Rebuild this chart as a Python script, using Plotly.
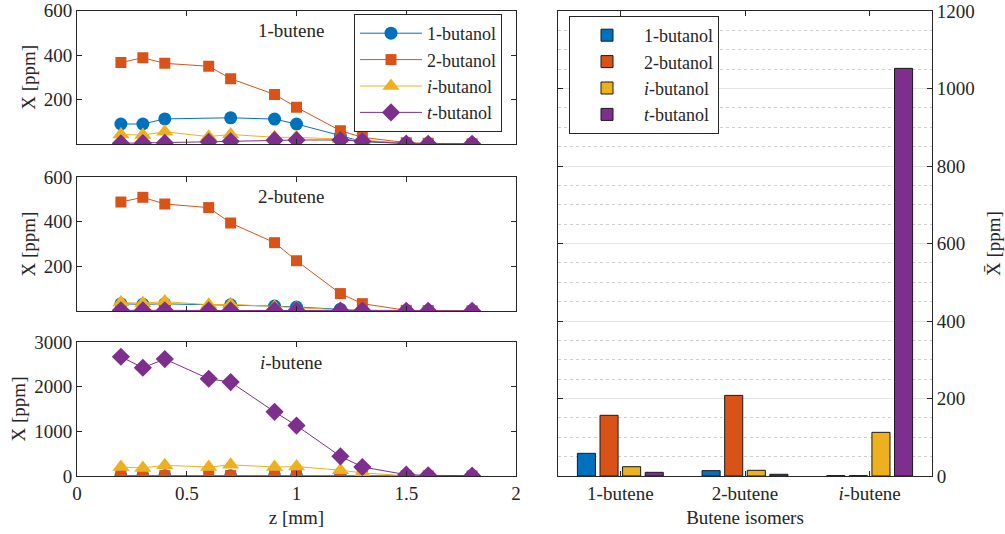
import plotly.graph_objects as go

# ---------------- data ----------------
z = [0.2, 0.3, 0.4, 0.6, 0.7, 0.9, 1.0, 1.2, 1.3, 1.5, 1.6, 1.8]
series_names = ["1-butanol", "2-butanol", "<i>i</i>-butanol", "<i>t</i>-butanol"]

# 1-butene panel
b1_1but = [90, 90, 113, None, 118, 112, 90, 38, 10, 3, 1, 1]
b1_2but = [367, 388, 363, 350, 294, 223, 165, 60, 30, 6, 3, 1]
b1_ibut = [43, 40, 55, 33, 43, 30, 30, 22, 18, 3, 1, 1]
b1_tbut = [3, 4, 5, 10, 12, 17, 18, 18, 12, 2, 1, 1]

# 2-butene panel
b2_1but = [32, 30, 32, None, 28, 22, 18, 8, 2, 1, 1, 1]
b2_2but = [488, 509, 479, 463, 394, 306, 225, 78, 33, 3, 2, 1]
b2_ibut = [38, 35, 42, 28, 30, 18, 15, 5, 3, 2, 1, 1]
b2_tbut = [3, 3, 3, 3, 3, 3, 3, 2, 2, 1, 1, 1]

# i-butene panel
bi_1but = [5, 5, 5, None, 5, 5, 5, 3, 2, 1, 1, 1]
bi_2but = [8, 8, 8, 8, 8, 8, 8, 5, 3, 1, 1, 1]
bi_ibut = [200, 180, 240, 200, 250, 200, 210, 130, 70, 5, 3, 2]
bi_tbut = [2670, 2423, 2618, 2177, 2102, 1436, 1129, 441, 202, 30, 15, 7]

# bar chart (mean values)
isomers = ["1-butene", "2-butene", "<i>i</i>-butene"]
mean_1but = [58.5, 13.8, 1.0]
mean_2but = [156.6, 208.0, 1.0]
mean_ibut = [24.0, 14.7, 112.7]
mean_tbut = [9.5, 4.4, 1052.0]

panel_labels = ["1-butene", "2-butene", "<i>i</i>-butene"]

# ---------------- styling ----------------
colors = ["#0072BD", "#D95319", "#EDB120", "#7E2F8E"]
symbols = ["circle", "square", "triangle-up", "diamond"]
msizes = [13, 11, 15, 14]
FONT = "Liberation Serif"
TXT = "#262626"
FS = 19
LFS = 18

fig = go.Figure()

panels = [
    ([b1_1but, b1_2but, b1_ibut, b1_tbut], "x", "y"),
    ([b2_1but, b2_2but, b2_ibut, b2_tbut], "x2", "y2"),
    ([bi_1but, bi_2but, bi_ibut, bi_tbut], "x3", "y3"),
]
for p, (vals, xa, ya) in enumerate(panels):
    for k in range(4):
        fig.add_trace(go.Scatter(
            x=z, y=vals[k], xaxis=xa, yaxis=ya,
            mode="lines+markers", connectgaps=True,
            name=series_names[k], showlegend=(p == 0), legend="legend",
            line=dict(color=colors[k], width=1),
            marker=dict(color=colors[k], symbol=symbols[k], size=msizes[k],
                        line=dict(width=0)),
        ))

bar_vals = [mean_1but, mean_2but, mean_ibut, mean_tbut]
for k in range(4):
    fig.add_trace(go.Bar(
        x=isomers, y=bar_vals[k], xaxis="x4", yaxis="y4",
        name=series_names[k], legend="legend2",
        marker=dict(color=colors[k], line=dict(color="#1a1a1a", width=1)),
    ))

axis_common = dict(
    showline=True, linecolor=TXT, linewidth=1, mirror="allticks",
    ticks="inside", ticklen=5, tickcolor=TXT, showgrid=False, zeroline=False,
    automargin=False,
    tickfont=dict(family=FONT, size=FS, color=TXT),
)

L0, L1 = 77 / 1005, 516 / 1005
R0, R1 = 558 / 1005, 932 / 1005


def ydom(top_px, bot_px):
    return [1 - bot_px / 534, 1 - top_px / 534]


ytitle = dict(text="X [ppm]", font=dict(family=FONT, size=FS, color=TXT), standoff=3)

fig.update_layout(
    width=1005, height=534,
    margin=dict(l=0, r=0, t=0, b=0, autoexpand=False),
    paper_bgcolor="white", plot_bgcolor="white",
    font=dict(family=FONT, size=FS, color=TXT),
    barmode="group", bargap=0.275, bargroupgap=0.2,
    xaxis=dict(axis_common, domain=[L0, L1], range=[0, 2], tickvals=[0, 0.5, 1, 1.5, 2],
               showticklabels=False, anchor="y", matches="x3"),
    yaxis=dict(axis_common, domain=ydom(10.7, 144), range=[0, 600], tickvals=[0, 200, 400, 600],
               ticktext=["", "200", "400", "600"], anchor="x", title=ytitle),
    xaxis2=dict(axis_common, domain=[L0, L1], range=[0, 2], tickvals=[0, 0.5, 1, 1.5, 2],
                showticklabels=False, anchor="y2", matches="x3"),
    yaxis2=dict(axis_common, domain=ydom(177, 311), range=[0, 600], tickvals=[0, 200, 400, 600],
                ticktext=["", "200", "400", "600"], anchor="x2", title=ytitle),
    xaxis3=dict(axis_common, domain=[L0, L1], range=[0, 2], tickvals=[0, 0.5, 1, 1.5, 2],
                ticktext=["0", "0.5", "1", "1.5", "2"], anchor="y3",
                title=dict(text="z [mm]", font=dict(family=FONT, size=FS, color=TXT), standoff=7)),
    yaxis3=dict(axis_common, domain=ydom(342, 476), range=[0, 3000], tickvals=[0, 1000, 2000, 3000],
                anchor="x3", title=ytitle),
    xaxis4=dict(axis_common, domain=[R0, R1], range=[-0.5, 2.5], type="category", anchor="y4",
                title=dict(text="Butene isomers", font=dict(family=FONT, size=FS, color=TXT), standoff=7)),
    yaxis4=dict(axis_common, domain=ydom(11, 476), range=[0, 1200], dtick=200, side="right",
                anchor="x4", showgrid=True, gridcolor="#e3e3e3", gridwidth=1,
                minor=dict(dtick=50, showgrid=True, gridcolor="#cfcfcf", griddash="dot",
                           gridwidth=1, ticks=""),
                title=dict(text="X\u0304 [ppm]", font=dict(family=FONT, size=FS, color=TXT), standoff=12)),
    legend=dict(x=354 / 1005, y=1 - 14 / 534, xanchor="left", yanchor="top",
                bgcolor="white", bordercolor=TXT, borderwidth=1,
                font=dict(family=FONT, size=LFS, color=TXT), tracegroupgap=0,
                itemwidth=62),
    legend2=dict(x=569 / 1005, y=1 - 16 / 534, xanchor="left", yanchor="top",
                 bgcolor="white", bordercolor=TXT, borderwidth=1,
                 font=dict(family=FONT, size=LFS, color=TXT), tracegroupgap=0,
                 itemwidth=64),
)

# panel labels
label_pos = [("x", "y", 30.7), ("x2", "y2", 196.7), ("x3", "y3", 362.7)]
for (xa, ya, ypx), lab in zip(label_pos, panel_labels):
    fig.add_annotation(text=lab, x=291 / 1005, y=1 - ypx / 534, xref="paper", yref="paper",
                       showarrow=False, xanchor="center", yanchor="middle",
                       font=dict(family=FONT, size=FS, color=TXT))

fig.write_html("out.html")
